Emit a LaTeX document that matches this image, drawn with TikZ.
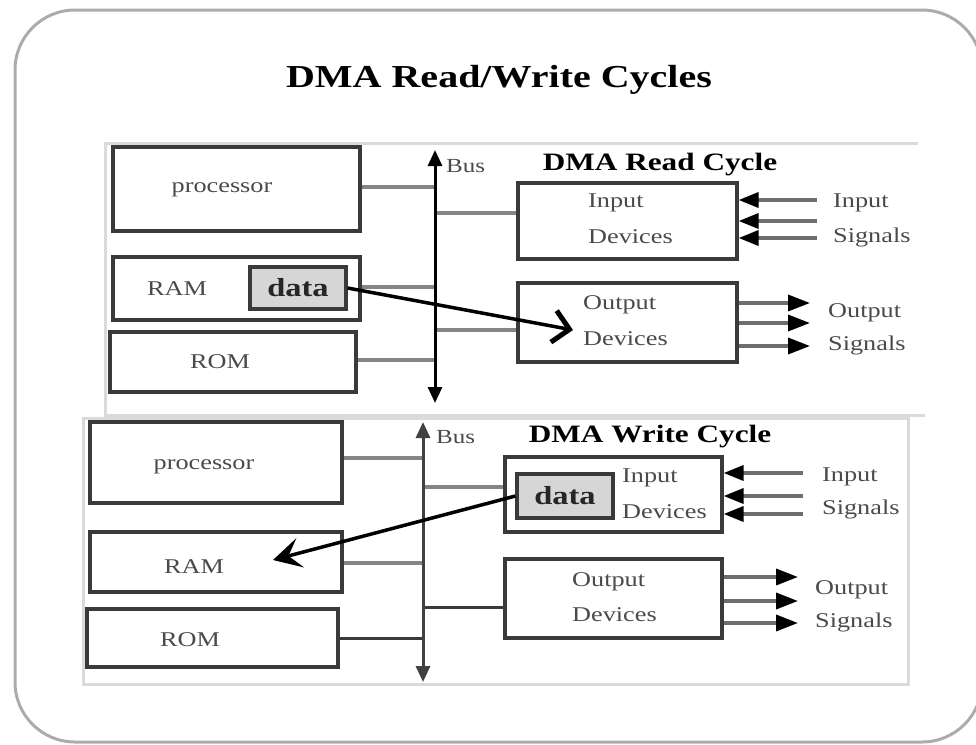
\documentclass[tikz,border=0pt]{standalone}
\usepackage{fontspec}
\setmainfont[FakeStretch=1.25]{Liberation Serif}
\usetikzlibrary{arrows.meta}
\definecolor{boxline}{HTML}{3A3A3A}
\definecolor{connline}{HTML}{858585}
\definecolor{sigline}{HTML}{6E6E6E}
\definecolor{panelline}{HTML}{DADADA}
\definecolor{datafill}{HTML}{D6D6D6}
\definecolor{txt}{HTML}{4A4A4A}
\begin{document}
\begin{tikzpicture}[x=1pt,y=-1pt,
  blk/.style={draw=boxline, line width=3.2pt, fill=white, inner sep=0pt},
  datablk/.style={draw=boxline, line width=3.2pt, fill=datafill, inner sep=0pt,
     font=\fontsize{26}{28}\selectfont\bfseries, text=black!85},
  conn/.style={draw=connline, line width=3.5pt},
  busline/.style={draw=black, line width=3pt, {Triangle[length=16pt,width=14pt]}-{Triangle[length=16pt,width=14pt]}},
  insig/.style={draw=sigline, line width=3.5pt, -{Triangle[length=20pt,width=15pt,fill=black,color=black]}},
  outsig/.style={draw=sigline, line width=3.5pt, -{Triangle[length=22pt,width=16pt,fill=black,color=black]}},
  lbl/.style={inner sep=0pt, text=txt, font=\fontsize{21}{24}\selectfont},
  buslbl/.style={inner sep=0pt, text=txt, font=\fontsize{20}{22}\selectfont, anchor=west},
  sub/.style={inner sep=0pt, text=black, font=\fontsize{25}{28}\selectfont\bfseries},
  panel/.style={draw=panelline, line width=3pt}
]
\useasboundingbox (0,0) rectangle (976,744);
% outer frame
\draw[draw=gray!65, line width=3pt, rounded corners=60pt] (15,10) rectangle (982,742);
\node[inner sep=0pt, font=\fontsize{32}{36}\selectfont\bfseries] (title) at (499,80) {DMA Read/Write Cycles};

% ---------------- top panel (read cycle)
\draw[panel] (918,143) -- (105,143) -- (105,415) -- (925,415);
\node[blk, minimum width=247pt, minimum height=84pt] (p1) at (236.5,189) {};
\node[blk, minimum width=247pt, minimum height=63pt] (ram1) at (236.5,288.5) {};
\node[datablk, minimum width=96pt, minimum height=42pt] (data1) at (298,288) {data};
\node[blk, minimum width=246pt, minimum height=60pt] (rom1) at (233,362) {};
\node[blk, minimum width=219pt, minimum height=76pt] (in1) at (627.5,221) {};
\node[blk, minimum width=219pt, minimum height=79pt] (out1) at (627.5,322.5) {};
\coordinate (b1top) at (435,150);
\coordinate (b1bot) at (435,403);
\draw[conn] ([yshift=2pt]p1.east) -- ([yshift=2pt]p1.east -| b1top);
\draw[conn] ([yshift=1.5pt]ram1.east) -- ([yshift=1.5pt]ram1.east -| b1top);
\draw[conn] ([yshift=2pt]rom1.east) -- ([yshift=2pt]rom1.east -| b1top);
\draw[conn] ([yshift=8pt]in1.west -| b1top) -- ([yshift=8pt]in1.west);
\draw[conn] ([yshift=-7.5pt]out1.west -| b1top) -- ([yshift=-7.5pt]out1.west);
\draw[busline] (b1bot) -- (b1top);
\node[buslbl] (bus1lbl) at (446,166) {Bus};
\node[sub] (read) at (660,165) {DMA Read Cycle};
\node[lbl] (p1t) at (222,190) {processor};
\node[lbl] (ram1t) at (177,289) {RAM};
\node[lbl] (rom1t) at (220,362) {ROM};
\node[lbl, anchor=west] (in1a) at (588,203) {Input};
\node[lbl, anchor=west] (in1b) at (588,237) {Devices};
\node[lbl, anchor=west] (out1a) at (583,305) {Output};
\node[lbl, anchor=west] (out1b) at (583,339) {Devices};
% input signals
\coordinate (i1a) at (817,200);
\coordinate (i1b) at (817,221);
\coordinate (i1c) at (817,238);
\draw[insig] (i1a) -- (i1a -| in1.east);
\draw[insig] (i1b) -- (i1b -| in1.east);
\draw[insig] (i1c) -- (i1c -| in1.east);
\node[lbl, anchor=west] (is1a) at (833,203) {Input};
\node[lbl, anchor=west] (is1b) at (833,237) {Signals};
% output signals
\coordinate (o1a) at (810,303);
\coordinate (o1b) at (810,323);
\coordinate (o1c) at (810,346);
\draw[outsig] (o1a -| out1.east) -- (o1a);
\draw[outsig] (o1b -| out1.east) -- (o1b);
\draw[outsig] (o1c -| out1.east) -- (o1c);
\node[lbl, anchor=west] (os1a) at (828,313) {Output};
\node[lbl, anchor=west] (os1b) at (828,345) {Signals};
% data read arrow
\coordinate (readtip) at (573,330);
\draw[black, line width=3.5pt, -{Straight Barb[length=16pt,width=32pt,line width=5pt]}] (data1.east) -- (readtip);

% ---------------- bottom panel (write cycle)
\draw[panel] (83,418) rectangle (908,684);
\node[blk, minimum width=252pt, minimum height=81pt] (p2) at (216,462.5) {};
\node[blk, minimum width=252pt, minimum height=60pt] (ram2) at (216,562) {};
\node[blk, minimum width=251pt, minimum height=58pt] (rom2) at (212.5,638) {};
\node[blk, minimum width=217pt, minimum height=75pt] (in2) at (613.5,494.5) {};
\node[datablk, minimum width=96pt, minimum height=44pt] (data2) at (565,496) {data};
\node[blk, minimum width=217pt, minimum height=79pt] (out2) at (613.5,598.5) {};
\coordinate (b2top) at (423,422);
\coordinate (b2bot) at (423,682);
\draw[conn] ([yshift=4.5pt]p2.east) -- ([yshift=4.5pt]p2.east -| b2top);
\draw[conn] ([yshift=-1pt]ram2.east) -- ([yshift=-1pt]ram2.east -| b2top);
\draw[conn, draw=boxline, line width=3pt] (rom2.east) -- (rom2.east -| b2top);
\draw[conn] ([yshift=7.5pt]in2.west -| b2top) -- ([yshift=7.5pt]in2.west);
\draw[conn, draw=boxline, line width=3pt] ([yshift=-8.5pt]out2.west -| b2top) -- ([yshift=-8.5pt]out2.west);
\draw[busline, draw=black!75] (b2bot) -- (b2top);
\node[buslbl] (bus2lbl) at (436,437) {Bus};
\node[sub] (write) at (650,437) {DMA Write Cycle};
\node[lbl] (p2t) at (204,467) {processor};
\node[lbl] (ram2t) at (194,567) {RAM};
\node[lbl] (rom2t) at (190,640) {ROM};
\node[lbl, anchor=west] (in2a) at (622,478) {Input};
\node[lbl, anchor=west] (in2b) at (622,512) {Devices};
\node[lbl, anchor=west] (out2a) at (572,582) {Output};
\node[lbl, anchor=west] (out2b) at (572,615) {Devices};
% input signals
\coordinate (i2a) at (803,473);
\coordinate (i2b) at (803,496);
\coordinate (i2c) at (803,514);
\draw[insig] (i2a) -- (i2a -| in2.east);
\draw[insig] (i2b) -- (i2b -| in2.east);
\draw[insig] (i2c) -- (i2c -| in2.east);
\node[lbl, anchor=west] (is2a) at (822,477) {Input};
\node[lbl, anchor=west] (is2b) at (822,509) {Signals};
% output signals
\coordinate (o2a) at (798,577);
\coordinate (o2b) at (798,601);
\coordinate (o2c) at (798,623);
\draw[outsig] (o2a -| out2.east) -- (o2a);
\draw[outsig] (o2b -| out2.east) -- (o2b);
\draw[outsig] (o2c -| out2.east) -- (o2c);
\node[lbl, anchor=west] (os2a) at (815,590) {Output};
\node[lbl, anchor=west] (os2b) at (815,622) {Signals};
% data write arrow
\coordinate (writetip) at (273,560);
\draw[black, line width=3.5pt, -{Stealth[length=28pt,width=30pt,inset=12pt]}] (data2.west) -- (writetip);
\end{tikzpicture}
\end{document}
